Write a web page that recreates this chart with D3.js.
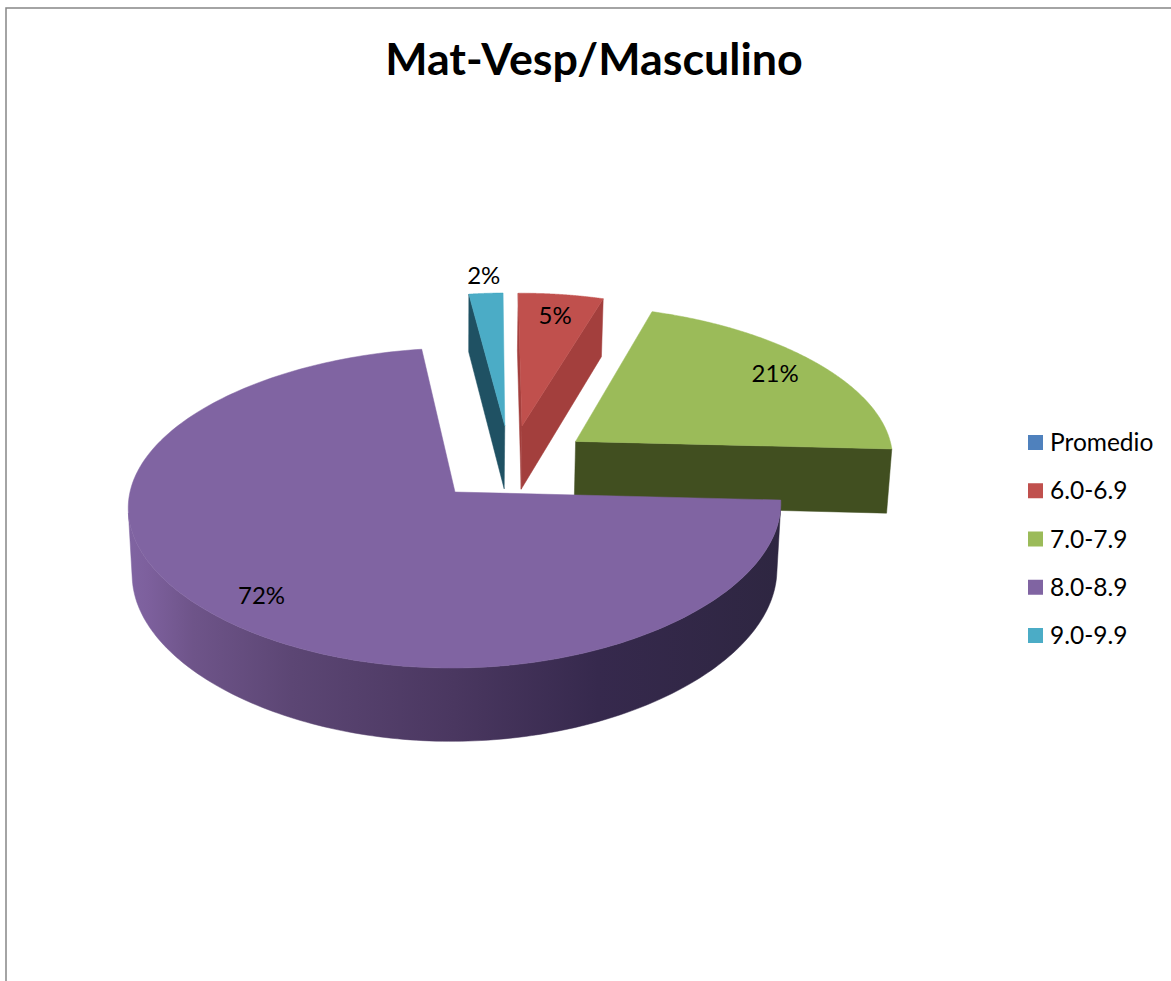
<!DOCTYPE html>
<html>
<head>
<meta charset="utf-8">
<script src="https://cdn.jsdelivr.net/npm/d3@7/dist/d3.min.js"></script>
<style>
  html, body { margin: 0; padding: 0; background: #fff; }
  svg { display: block; }
  text { font-family: Lato, "Open Sans", sans-serif; fill: #000; }
</style>
</head>
<body>
<svg id="chart" width="1171" height="981"></svg>
<script>
const chartTitle = "Mat-Vesp/Masculino";
const categories = ["Promedio", "6.0-6.9", "7.0-7.9", "8.0-8.9", "9.0-9.9"];
const shares = [0, 5, 21, 72, 2];
const topColors = ["#4f81bd", "#c0504d", "#9bbb59", "#8064a2", "#4bacc6"];
const sideColors = ["#2c4d75", "#a33f3d", "#414f20", "#5a4570", "#1f5163"];
const drawOrder = [4, 1, 2, 3, 0];

const W = 1171, H = 981;
const svg = d3.select("#chart");
const defs = svg.append("defs");

// Ground plane to screen: unit radius, origin on the apex of the largest slice.
const sx = d3.scaleLinear().domain([0, 1]).range([455, 780]);
const sy = d3.scaleLinear().domain([0, 1]).range([492, 333.6]);
const perspectiveY = 0.1;
const perspectiveX = 0.09;
const perspectiveXCurve = 0.03;
const vanishU = sx.invert(518);
const depth = 66;
const bottomShrink = 0.988;
const explode = 0.252;
const firstSliceAngle = -0.7 * Math.PI / 180;

const pieLayout = d3.pie().value(d => d).sort(null)
  .startAngle(firstSliceAngle).endAngle(firstSliceAngle + 2 * Math.PI);
const arcs = pieLayout(shares);
const mid = a => (a.startAngle + a.endAngle) / 2;
const anchor = arcs[d3.greatestIndex(shares)];
const cu = -explode * Math.sin(mid(anchor));
const cv = -explode * Math.cos(mid(anchor));

function project(u, v, lower) {
  const kx = 1 + perspectiveX * v + perspectiveXCurve * v * v;
  const px = vanishU + (u - vanishU) / kx;
  const k = 1 + perspectiveY * v;
  const py = v / k;
  if (!lower) return [sx(px), sy(py)];
  return [sx(0) + (sx(px) - sx(0)) * bottomShrink, sy(py) + depth / k];
}

// Point of slice `a` at polar position (angle, radius) in the ground plane.
function polar(a, angle, r, lower) {
  const m = mid(a);
  return project(
    cu + explode * Math.sin(m) + r * Math.sin(angle),
    cv + explode * Math.cos(m) + r * Math.cos(angle),
    lower
  );
}

const outline = d3.line();
const signedArea = pts => d3.polygonArea(pts);

const rimGradient = defs.append("linearGradient")
  .attr("id", "rimShade")
  .attr("gradientUnits", "userSpaceOnUse")
  .attr("x1", 128).attr("x2", 781).attr("y1", 0).attr("y2", 0);
[[0, "#8064a2"], [0.03, "#7d609d"], [0.1, "#6e5489"], [0.25, "#5c4674"], [0.5, "#4a3760"],
 [0.72, "#36294d"], [1, "#2e2641"]].forEach(([o, c]) =>
  rimGradient.append("stop").attr("offset", o).attr("stop-color", c));

const slices = svg.append("g");

drawOrder.forEach(i => {
  const a = arcs[i];
  if (a.endAngle <= a.startAngle) return;
  const g = slices.append("g");
  const side = sideColors[i];
  const isAnchor = a === anchor;

  // Flat cut faces, kept only when they turn toward the viewer.
  [[a.startAngle, 1], [a.endAngle, -1]].forEach(([ang, dir]) => {
    const quad = [polar(a, ang, 0), polar(a, ang, 1), polar(a, ang, 1, true), polar(a, ang, 0, true)];
    if (signedArea(quad) * dir < 0) return;
    g.append("path").attr("d", outline(quad) + "Z").attr("fill", side).attr("stroke", side).attr("stroke-width", 0.5);
  });

  // Curved outer wall, restricted to the part that faces forward.
  const steps = d3.range(0, 241).map(s => a.startAngle + (a.endAngle - a.startAngle) * s / 240);
  const visible = steps.filter(t => {
    const d = 0.002;
    const p = [polar(a, t - d, 1), polar(a, t + d, 1), polar(a, t + d, 1, true), polar(a, t - d, 1, true)];
    return signedArea(p) > 0;
  });
  if (visible.length > 1) {
    const wall = visible.map(t => polar(a, t, 1)).concat(visible.slice().reverse().map(t => polar(a, t, 1, true)));
    const fill = isAnchor ? "url(#rimShade)" : side;
    g.append("path").attr("d", outline(wall) + "Z").attr("fill", fill).attr("stroke", fill).attr("stroke-width", 0.5);
  }

  // Upper face.
  const top = [polar(a, 0, 0)].concat(steps.map(t => polar(a, t, 1)));
  g.append("path").attr("d", outline(top) + "Z").attr("fill", topColors[i]).attr("stroke", topColors[i]).attr("stroke-width", 0.5);
});

// Percentage labels: small slices carry theirs outside the rim.
const labels = svg.append("g");
arcs.forEach((a, i) => {
  if (shares[i] === 0) return;
  const r = shares[i] < 3 ? 1.146 : 0.83;
  const [x, y] = polar(a, mid(a), r);
  labels.append("text")
    .attr("x", x).attr("y", y).attr("dy", "0.35em")
    .attr("text-anchor", "middle")
    .attr("font-size", 24)
    .text(shares[i] + "%");
});

// Title
svg.append("text")
  .attr("x", 594).attr("y", 75)
  .attr("text-anchor", "middle")
  .attr("font-size", 44.8).attr("font-weight", 700)
  .text(chartTitle);

// Legend
const legendY = d3.scalePoint().domain(categories).range([442.5, 635.5]);
const legend = svg.append("g").selectAll("g").data(categories).join("g")
  .attr("transform", d => `translate(1028,${legendY(d)})`);
legend.append("rect")
  .attr("x", 0).attr("y", -7.5).attr("width", 15).attr("height", 15)
  .attr("fill", (d, i) => topColors[i]);
legend.append("text")
  .attr("x", 22).attr("dy", "0.35em")
  .attr("font-size", 24.5)
  .text(d => d);

// Frame: only the top and left edges fall inside the page.
svg.append("path")
  .attr("d", d3.line()([[6, H], [6, 8], [W, 8]]))
  .attr("fill", "none").attr("stroke", "#868686").attr("stroke-width", 1.5);
</script>
</body>
</html>
